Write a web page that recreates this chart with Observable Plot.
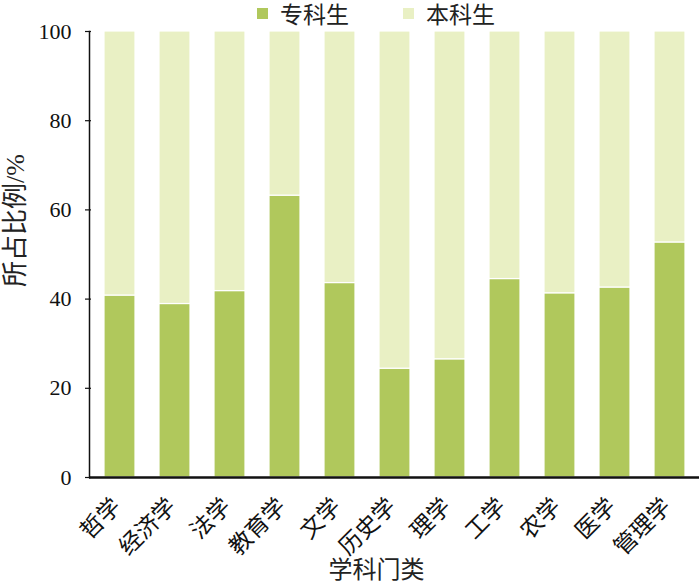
<!DOCTYPE html>
<html>
<head>
<meta charset="utf-8">
<script src="https://cdn.jsdelivr.net/npm/d3@7"></script>
<script src="https://cdn.jsdelivr.net/npm/@observablehq/plot@0.6"></script>
<style>
  html, body { margin: 0; padding: 0; background: #fff; }
  #wrap { position: relative; width: 700px; height: 587px; }
  #legend { position: absolute; top: 0; left: 0; width: 700px; height: 26px;
    font-family: "Liberation Serif", "Noto Sans CJK SC", serif; font-size: 23px; color: #222; }
  .item { position: absolute; top: 1px; display: flex; align-items: center; height: 24px; }
  .sw { width: 11px; height: 11px; display: inline-block; margin-right: 12px; }
</style>
</head>
<body>
<div id="wrap">
  <div id="legend"></div>
</div>
<script>
const categories = ["哲学", "经济学", "法学", "教育学", "文学", "历史学", "理学", "工学", "农学", "医学", "管理学"];
const series = ["专科生", "本科生"];
const zhuanke = [40.8, 38.9, 41.8, 63.2, 43.6, 24.4, 26.5, 44.5, 41.3, 42.6, 52.7];
const benke   = [59.2, 61.1, 58.2, 36.8, 56.4, 75.6, 73.5, 55.5, 58.7, 57.4, 47.3];
const colors = ["#b0c85c", "#e9f0c4"];
const yTicks = [0, 20, 40, 60, 80, 100];
const yTitle = "所占比例/%";
const xTitle = "学科门类";

const data = [];
categories.forEach((c, i) => {
  data.push({cat: c, series: series[0], value: zhuanke[i]});
  data.push({cat: c, series: series[1], value: benke[i]});
});

const font = "'Liberation Serif', 'Noto Sans CJK SC', serif";

const chart = Plot.plot({
  width: 700,
  height: 587,
  marginLeft: 89,
  marginRight: 1,
  marginTop: 31,
  marginBottom: 110,
  style: {fontFamily: font, color: "#111", background: "white", overflow: "visible"},
  x: {domain: categories, paddingInner: 0.44, paddingOuter: 0.235},
  y: {domain: [0, 100]},
  color: {domain: series, range: colors},
  marks: [
    Plot.barY(data, {x: "cat", y: "value", fill: "series", stroke: "white", strokeWidth: 1.2, order: series}),
    Plot.axisY({ticks: yTicks, tickSize: -6, tickPadding: 20, dx: -4, fontSize: 22, label: null, stroke: "#111", strokeWidth: 1.2}),
    Plot.axisX({tickSize: 0, tickRotate: -45, fontSize: 23, label: null, tickPadding: 8, dx: -3, dy: 17}),
    Plot.frame({anchor: "left", stroke: "#111", strokeWidth: 1.5}),
    Plot.ruleY([0], {stroke: "#111", strokeWidth: 2.5}),
    Plot.text([yTitle], {frameAnchor: "left", textAnchor: "middle", rotate: -90, dx: -74, dy: -34, fontSize: 26, fill: "#222"}),
    Plot.text([xTitle], {frameAnchor: "bottom", dx: -18, dy: 100, fontSize: 24, fill: "#222"})
  ]
});

document.getElementById("wrap").appendChild(chart);

const legend = document.getElementById("legend");
const pos = [257, 403];
series.forEach((s, i) => {
  const it = document.createElement("div");
  it.className = "item";
  it.style.left = pos[i] + "px";
  const sw = document.createElement("span");
  sw.className = "sw";
  sw.style.background = colors[i];
  it.appendChild(sw);
  it.appendChild(document.createTextNode(s));
  legend.appendChild(it);
});
legend.style.zIndex = 2;
</script>
</body>
</html>
